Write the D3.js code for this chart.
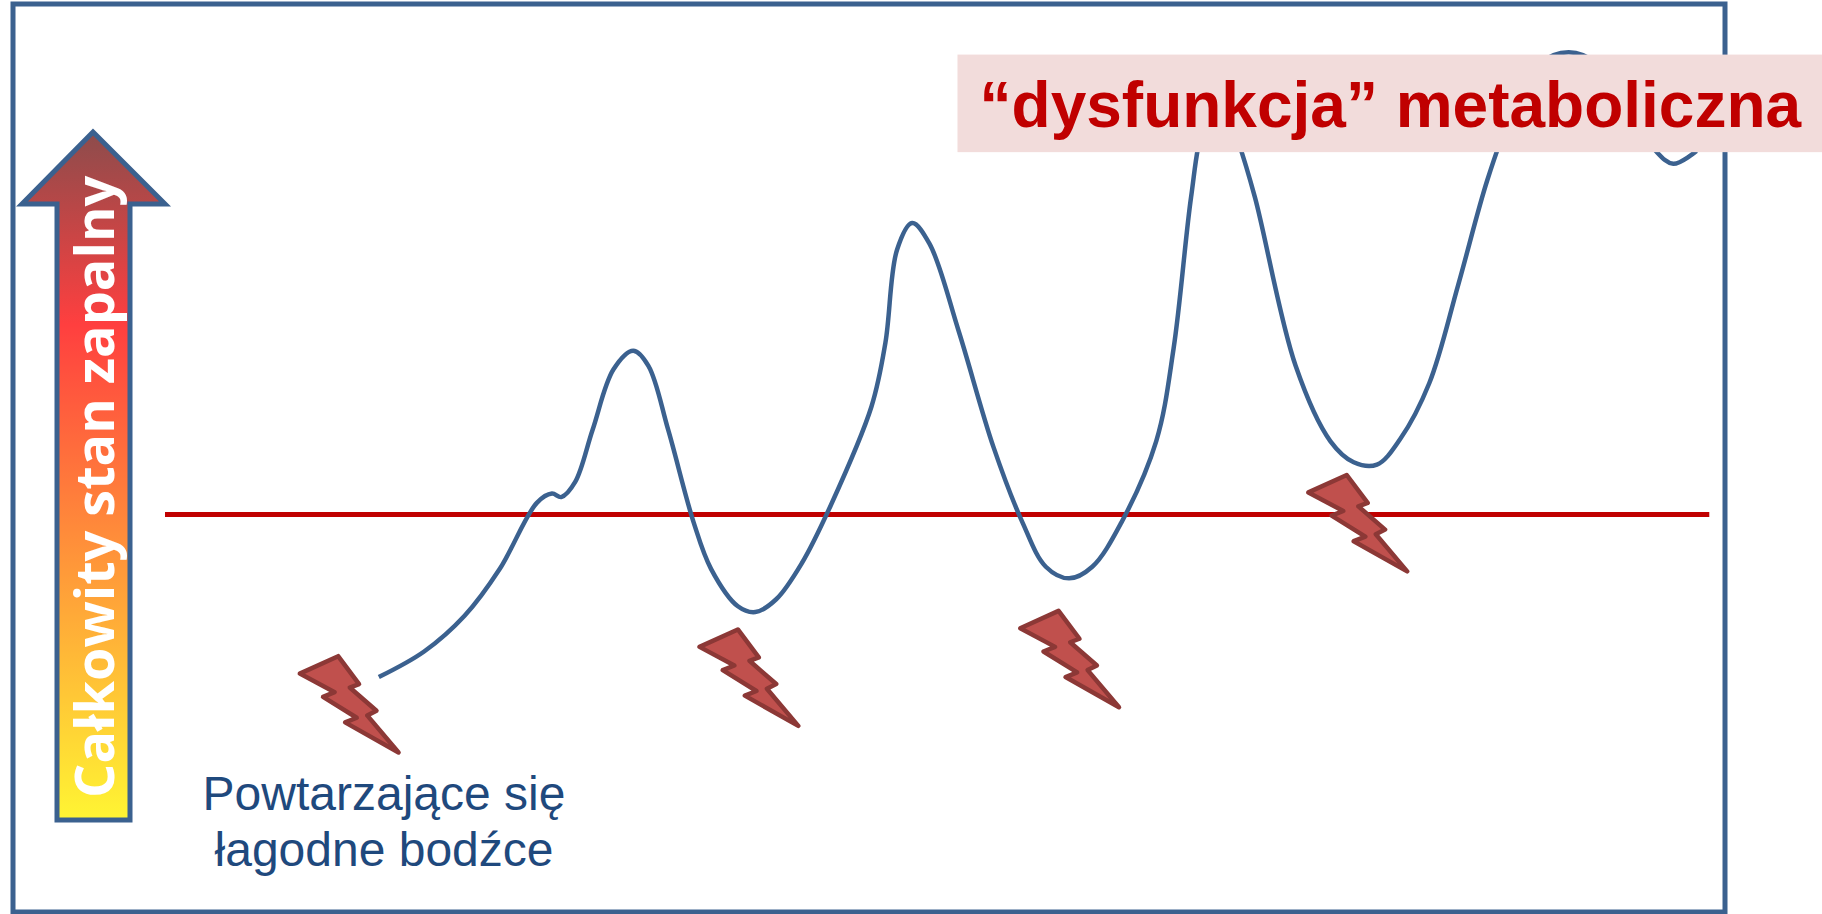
<!DOCTYPE html>
<html>
<head>
<meta charset="utf-8">
<script src="https://cdn.jsdelivr.net/npm/d3@7"></script>
<style>
  html, body { margin: 0; padding: 0; background: #fff; }
  svg { display: block; }
</style>
</head>
<body>
<svg></svg>
<script>
var svgWidth = 1822, svgHeight = 914;

// curve, in units of the 1568x787 view
var curveX = [326,365,400,430,462,475,483,495,510,528,545,558,575,597,612,635,650,668,690,715,750,762,772,785,800,825,855,880,900,920,940,965,995,1010,1025,1035,1050,1065,1080,1115,1145,1165,1185,1205,1230,1255,1280,1300,1325,1350,1375,1400,1425,1440,1460];
var curveY = [583,561,530,490,433,425,428,415,370,318,302,315,370,450,490,522,527,516,485,435,350,295,215,192,210,285,385,450,488,498,488,450,380,300,170,110,80,120,170,315,380,398,400,378,330,245,155,100,55,45,55,90,130,141,130];

var thresholdX = [142, 1471];
var thresholdY = 443;

// where each bolt sits (top left of its outline)
var boltX = [258, 602, 878, 1126];
var boltY = [580, 557, 541, 424];
var boltShapeX = [0,33,51,43,66,57,85,40,50,56,-1].map(function(d, i) { return [0,33,51,43,66,58,85,40,51,56-0,66-0][i] * 1; });
boltShapeX = [0,33,51,43,66,58,85,40,50,56,66];
boltShapeX = [0,33,51,43,66,58,85,39,49,56,66];
boltShapeX = [0,33,51,43,66,58,85,39,49,20,30];
var boltShapeY = [0,-15,9,12,32,36,68,42,38,20,16];

var labelText = "\u201Cdysfunkcja\u201D metaboliczna";
var noteLines = ["Powtarzaj\u0105ce si\u0119", "\u0142agodne bod\u017Ace"];
var arrowText = "Ca\u0142kowity stan zapalny";

var svg = d3.select("svg").attr("width", svgWidth).attr("height", svgHeight);

// setup scales
var xScale = d3.scaleLinear().domain([0, 1568]).range([0, svgWidth]);
var yScale = d3.scaleLinear().domain([0, 787]).range([0, svgHeight]);

// frame
svg.append("rect")
    .attr("x", 13)
    .attr("y", 4)
    .attr("width", 1712)
    .attr("height", 908)
    .attr("fill", "none")
    .attr("stroke", "#3b618f")
    .attr("stroke-width", 5);

// threshold line
svg.append("line")
    .attr("x1", xScale(thresholdX[0]))
    .attr("x2", xScale(thresholdX[1]))
    .attr("y1", yScale(thresholdY))
    .attr("y2", yScale(thresholdY))
    .attr("stroke", "#c00000")
    .attr("stroke-width", 5);

// inflammation curve
var line = d3.line()
    .x(function(d) { return xScale(d[0]); })
    .y(function(d) { return yScale(d[1]); })
    .curve(d3.curveCatmullRom.alpha(0.5));

svg.append("path")
    .attr("d", line(d3.zip(curveX, curveY)))
    .attr("fill", "none")
    .attr("stroke", "#3b618f")
    .attr("stroke-width", 4.5);

// bolts
var boltPoints = d3.zip(boltShapeX, boltShapeY);
svg.selectAll(".bolt")
    .data(d3.zip(boltX, boltY))
    .enter()
    .append("polygon")
    .attr("class", "bolt")
    .attr("points", function(d) {
        return boltPoints.map(function(p) {
            return xScale(d[0] + p[0]) + "," + yScale(d[1] + p[1]);
        }).join(" ");
    })
    .attr("fill", "#c0504d")
    .attr("stroke", "#8c3836")
    .attr("stroke-width", 4.5)
    .attr("stroke-linejoin", "round");

// arrow
var defs = svg.append("defs");
var gradient = defs.append("linearGradient")
    .attr("id", "arrowFill")
    .attr("x1", "0%").attr("x2", "0%")
    .attr("y1", "0%").attr("y2", "100%");
[[0, "#8c4c4c"], [0.28, "#ff3f3f"], [1, "#fff533"]].forEach(function(s) {
    gradient.append("stop").attr("offset", s[0]).attr("stop-color", s[1]);
});

svg.append("polygon")
    .attr("points", "93,132 165,204 130,204 130,820 57,820 57,204 22,204")
    .attr("fill", "url(#arrowFill)")
    .attr("stroke", "#3b618f")
    .attr("stroke-width", 5);

svg.append("text")
    .text(arrowText)
    .attr("transform", "translate(114,798) rotate(-90)")
    .attr("font-family", "'Open Sans', sans-serif")
    .attr("font-weight", "bold")
    .attr("font-size", 54)
    .attr("fill", "#fff");

// note under the first bolt
svg.selectAll(".note")
    .data(noteLines)
    .enter()
    .append("text")
    .attr("class", "note")
    .text(function(d) { return d; })
    .attr("x", 384)
    .attr("y", function(d, i) { return 810 + i * 56; })
    .attr("text-anchor", "middle")
    .attr("font-family", "'Liberation Sans', sans-serif")
    .attr("font-size", 48)
    .attr("fill", "#1f497d");

// label box goes over curve and frame
svg.append("rect")
    .attr("x", xScale(824))
    .attr("y", yScale(47))
    .attr("width", xScale(1568) - xScale(824))
    .attr("height", yScale(131) - yScale(47))
    .attr("fill", "#f2dcdb");

svg.append("text")
    .text(labelText)
    .attr("x", xScale(843))
    .attr("y", yScale(109))
    .attr("font-family", "'Liberation Sans', sans-serif")
    .attr("font-weight", "bold")
    .attr("font-size", 64)
    .attr("fill", "#c00000");
</script>
</body>
</html>
